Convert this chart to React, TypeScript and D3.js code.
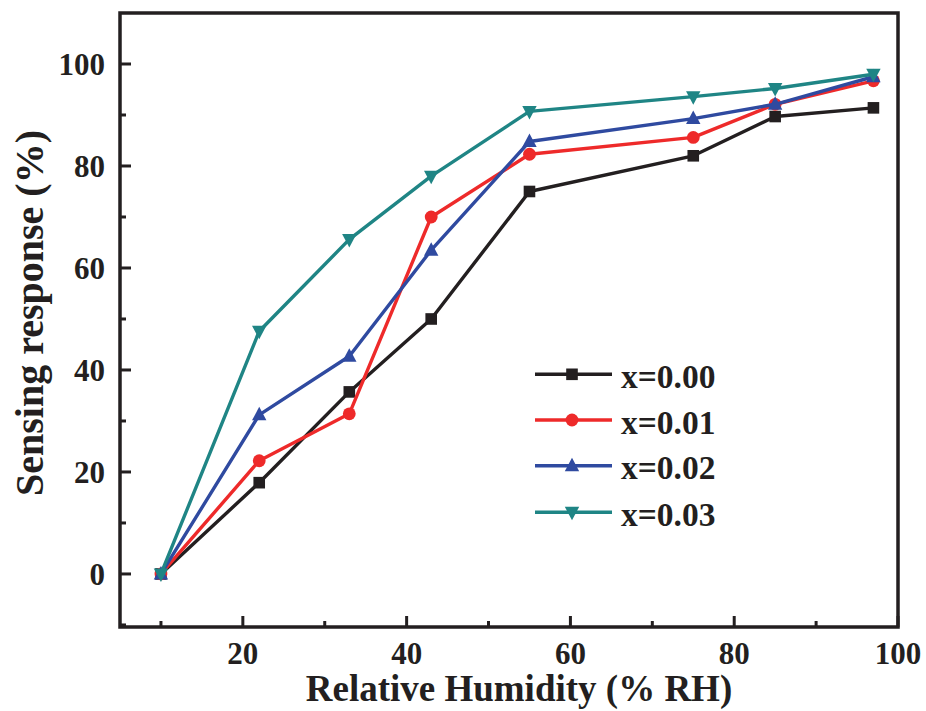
import React from "react";
import * as d3 from "d3";

const humidity = [10, 22, 33, 43, 55, 75, 85, 97];
const seriesNames = ["x=0.00", "x=0.01", "x=0.02", "x=0.03"];
const s000 = [0, 17.9, 35.7, 50, 75, 82, 89.7, 91.4];
const s001 = [0, 22.2, 31.4, 70, 82.3, 85.6, 92.1, 96.7];
const s002 = [0, 31.2, 42.7, 63.5, 84.8, 89.3, 92.1, 97.5];
const s003 = [0, 47.6, 65.6, 78, 90.7, 93.6, 95.2, 98];
const xTicks = [20, 40, 60, 80, 100];
const xMinor = [10, 30, 50, 70, 90];
const yTicks = [0, 20, 40, 60, 80, 100];
const yMinor = [-10, 10, 30, 50, 70, 90];

const colors = ["#231f20", "#ee2a2a", "#2f4aa0", "#1f8585"];
const shapes = ["square", "circle", "up", "down"];

const W = 926, H = 711;
const L = 120, R = 898, T = 13, B = 627;
const FONT = "'Liberation Serif', 'Times New Roman', serif";
const INK = "#231f20";

function Marker({ shape, x, y, color }: { shape: string; x: number; y: number; color: string }) {
  if (shape === "square") return <rect x={x - 5.8} y={y - 5.8} width={11.6} height={11.6} fill={color} />;
  if (shape === "circle") return <circle cx={x} cy={y} r={6.4} fill={color} />;
  if (shape === "up") return <path d={`M${x},${y - 8} L${x + 7.2},${y + 5.5} L${x - 7.2},${y + 5.5} Z`} fill={color} />;
  return <path d={`M${x},${y + 8} L${x + 7.2},${y - 5.5} L${x - 7.2},${y - 5.5} Z`} fill={color} />;
}

export default function App() {
  const x = d3.scaleLinear().domain([5, 100]).range([L, R]);
  const y = d3.scaleLinear().domain([-10.4, 110]).range([B, T]);
  const all = [s000, s001, s002, s003];
  const line = d3.line<number>().x((_, i) => x(humidity[i])).y((d) => y(d));
  const legY = [374.3, 420, 465.7, 512.3];
  return (
    <svg width={W} height={H} style={{ position: "absolute", left: 0, top: 0, background: "#fff" }}>
      {all.map((s, k) => (
        <g key={k}>
          <path d={line(s) || ""} fill="none" stroke={colors[k]} strokeWidth={3.4} strokeLinejoin="round" />
          {s.map((v, i) => (
            <Marker key={i} shape={shapes[k]} x={x(humidity[i])} y={y(v)} color={colors[k]} />
          ))}
        </g>
      ))}
      <rect x={L} y={T} width={R - L} height={B - T} fill="none" stroke={INK} strokeWidth={3.5} />
      {xTicks.map((t) => (
        <g key={"xt" + t}>
          <line x1={x(t)} x2={x(t)} y1={B} y2={B - 11} stroke={INK} strokeWidth={3} />
          <text x={x(t)} y={664} textAnchor="middle" fontFamily={FONT} fontWeight="bold" fontSize={31} fill={INK}>{t}</text>
        </g>
      ))}
      {xMinor.map((t) => (
        <line key={"xm" + t} x1={x(t)} x2={x(t)} y1={B} y2={B - 6} stroke={INK} strokeWidth={3} />
      ))}
      {yTicks.map((t) => (
        <g key={"yt" + t}>
          <line x1={L} x2={L + 11} y1={y(t)} y2={y(t)} stroke={INK} strokeWidth={3} />
          <text x={105} y={y(t) + 10.7} textAnchor="end" fontFamily={FONT} fontWeight="bold" fontSize={31} fill={INK}>{t}</text>
        </g>
      ))}
      {yMinor.map((t) => (
        <line key={"ym" + t} x1={L} x2={L + 6} y1={y(t)} y2={y(t)} stroke={INK} strokeWidth={3} />
      ))}
      <text x={519} y={701} textAnchor="middle" fontFamily={FONT} fontWeight="bold" fontSize={37} fill={INK}>Relative Humidity (% RH)</text>
      <text transform={`translate(43,313) rotate(-90)`} textAnchor="middle" fontFamily={FONT} fontWeight="bold" fontSize={40} fill={INK}>Sensing response (%)</text>
      {seriesNames.map((n, k) => (
        <g key={n}>
          <line x1={535} x2={612} y1={legY[k]} y2={legY[k]} stroke={colors[k]} strokeWidth={3.5} />
          <Marker shape={shapes[k]} x={572} y={legY[k]} color={colors[k]} />
          <text x={621} y={legY[k] + 13.5} fontFamily={FONT} fontWeight="bold" fontSize={33.5} fill={INK}>{n}</text>
        </g>
      ))}
    </svg>
  );
}
